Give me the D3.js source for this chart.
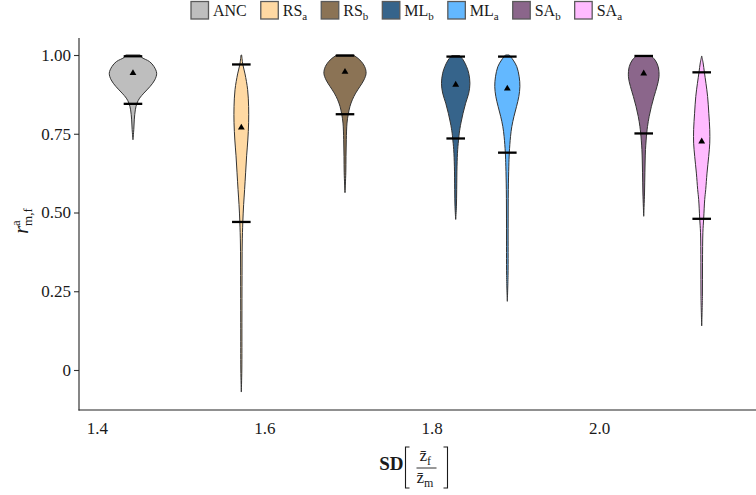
<!DOCTYPE html>
<html>
<head>
<meta charset="utf-8">
<script src="https://cdn.jsdelivr.net/npm/d3@7"></script>
<style>
  html, body { margin: 0; padding: 0; background: #fff; }
  svg { display: block; }
  svg text { font-family: "Liberation Serif", "Tinos", "Times New Roman", Times, "DejaVu Serif", serif; fill: #1a1a1a; }
</style>
</head>
<body>
<svg id="chart" width="756" height="495" font-family="Liberation Serif, Tinos, Times New Roman, DejaVu Serif, serif"></svg>
<script>
// ---------- data ----------
const groups    = ["ANC", "RS_a", "RS_b", "ML_b", "ML_a", "SA_b", "SA_a"];
const positions = [1.443, 1.5725, 1.6964, 1.8287, 1.8904, 2.0534, 2.1227];
const means     = [0.945, 0.772, 0.949, 0.908, 0.896, 0.944, 0.728];
const upperQ    = [0.996, 0.970, 0.998, 0.995, 0.995, 0.997, 0.945];
const lowerQ    = [0.845, 0.470, 0.812, 0.735, 0.690, 0.751, 0.480];
const colors    = ["#BEBEBE", "#FFD9A3", "#8B7355", "#36648B", "#63B8FF", "#8B668B", "#FFBBFF"];

const xTicks = [1.4, 1.6, 1.8, 2.0];
const yTicks = [0, 0.25, 0.5, 0.75, 1.0];
const yTickLabels = ["0", "0.25", "0.50", "0.75", "1.00"];

// relative density profiles: [value, density]
const densANC = [[1.0,.31],[0.993,.36],[0.979,.70],[0.963,.89],[0.942,1.0],[0.921,.92],[0.9,.72],[0.879,.46],[0.863,.28],[0.847,.17],[0.826,.10],[0.794,.055],[0.763,.034],[0.731,0]];
const densRSa = [[1.0,.013],[0.97,.063],[0.94,.156],[0.89,.266],[0.836,.308],[0.785,.308],[0.73,.274],[0.68,.224],[0.626,.181],[0.573,.139],[0.525,.097],[0.47,.063],[0.40,.038],[0.30,.030],[0.15,.025],[0.0,.021],[-0.07,0]];
const densRSb = [[1.0,.35],[0.984,.63],[0.963,.83],[0.942,.89],[0.921,.80],[0.9,.63],[0.879,.45],[0.858,.31],[0.837,.21],[0.813,.14],[0.784,.084],[0.731,.055],[0.678,.042],[0.626,.034],[0.563,0]];
const densMLb = [[0.998,.17],[0.984,.32],[0.963,.46],[0.942,.55],[0.91,.60],[0.879,.55],[0.847,.42],[0.815,.31],[0.784,.22],[0.752,.15],[0.735,.127],[0.70,.084],[0.647,.055],[0.573,.042],[0.52,.03],[0.478,0]];
const densMLa = [[1.0,.08],[0.984,.245],[0.963,.40],[0.931,.50],[0.9,.53],[0.868,.485],[0.837,.39],[0.805,.28],[0.773,.19],[0.741,.135],[0.69,.084],[0.647,.063],[0.573,.042],[0.45,.034],[0.3,.03],[0.218,0]];
const densSAb = [[0.998,.30],[0.984,.48],[0.963,.61],[0.931,.645],[0.9,.56],[0.868,.435],[0.837,.325],[0.805,.23],[0.773,.16],[0.751,.127],[0.70,.076],[0.626,.05],[0.562,.034],[0.488,0]];
const densSAa = [[0.997,0],[0.975,.06],[0.945,.114],[0.91,.18],[0.868,.25],[0.815,.30],[0.763,.34],[0.72,.34],[0.678,.295],[0.625,.224],[0.573,.17],[0.541,.127],[0.481,.084],[0.437,.05],[0.342,.034],[0.234,.03],[0.14,0]];
const densities = [densANC, densRSa, densRSb, densMLb, densMLa, densSAb, densSAa];

// ---------- layout ----------
const svg = d3.select("#chart");
const plotLeft = 79, plotRight = 756, plotTop = 38, plotBottom = 410;
const font = 17;

const x = d3.scaleLinear().domain([1.3785, 2.1876]).range([plotLeft, plotRight]);
const y = d3.scaleLinear().domain([-0.127, 1.054]).range([plotBottom, plotTop]);
const w = d3.scaleLinear().domain([0, 1]).range([0, 23.7]);
const barHalf = 0.0111;

// ---------- violins ----------
const gV = svg.append("g");
groups.forEach((g, i) => {
  const cx = x(positions[i]);
  const area = d3.area()
    .y(d => y(d[0]))
    .x0(d => cx - w(d[1]))
    .x1(d => cx + w(d[1]))
    .curve(d3.curveCatmullRom.alpha(0.5));
  gV.append("path")
    .attr("d", area(densities[i]))
    .attr("fill", colors[i])
    .attr("stroke", "#333")
    .attr("stroke-width", 1.0);
});

// quantile bars
[upperQ, lowerQ].forEach(arr => {
  gV.selectAll(null).data(arr).enter().append("line")
    .attr("x1", (d, i) => x(positions[i] - barHalf))
    .attr("x2", (d, i) => x(positions[i] + barHalf))
    .attr("y1", d => y(d)).attr("y2", d => y(d))
    .attr("stroke", "#000").attr("stroke-width", 2.3);
});

// mean triangles
gV.selectAll(null).data(means).enter().append("path")
  .attr("d", d3.symbol(d3.symbolTriangle, 20))
  .attr("transform", (d, i) => `translate(${x(positions[i])},${y(d) + 0.8})`)
  .attr("fill", "#000");

// ---------- axes ----------
const yAxis = d3.axisLeft(y).tickValues(yTicks)
  .tickFormat((d, i) => yTickLabels[i]).tickSize(5).tickPadding(3);
const gy = svg.append("g").attr("transform", `translate(${plotLeft},0)`).call(yAxis)
  .attr("font-family", null).attr("font-size", null);
gy.select(".domain").remove();
gy.selectAll(".tick line").attr("stroke", "#333").attr("stroke-width", 1.1);
gy.selectAll(".tick text").attr("font-size", font).attr("fill", "#1a1a1a");

const xAxis = d3.axisBottom(x).tickValues(xTicks).tickFormat(d3.format(".1f")).tickSize(0).tickPadding(12);
const gx = svg.append("g").attr("transform", `translate(0,${plotBottom})`).call(xAxis)
  .attr("font-family", null).attr("font-size", null);
gx.select(".domain").remove();
gx.selectAll(".tick text").attr("font-size", font).attr("fill", "#1a1a1a");

svg.append("line").attr("x1", plotLeft).attr("x2", plotLeft)
  .attr("y1", plotTop).attr("y2", plotBottom + 0.5)
  .attr("stroke", "#222").attr("stroke-width", 1.1);
svg.append("line").attr("x1", plotLeft - 0.5).attr("x2", plotRight)
  .attr("y1", plotBottom).attr("y2", plotBottom)
  .attr("stroke", "#222").attr("stroke-width", 1.1);

// ---------- y label ----------
const yl = svg.append("text")
  .attr("transform", `translate(27.5,${(plotTop + plotBottom) / 2 - 3}) rotate(-90)`)
  .attr("text-anchor", "middle").attr("font-size", 20);
yl.append("tspan").attr("font-style", "italic").text("r");
yl.append("tspan").attr("font-size", 13).attr("dy", -8).text("a");
yl.append("tspan").attr("font-size", 13).attr("dx", -5.8).attr("dy", 12).text("m,f");

// ---------- x title ----------
const cxT = (plotLeft + plotRight) / 2;
const gt = svg.append("g");
const bl = cxT - 12, br = cxT + 30, bt = 447, bb = 488;
gt.append("text").attr("x", bl - 2).attr("y", 470).attr("font-size", 19)
  .attr("text-anchor", "end").attr("font-weight", "bold").text("SD");
gt.append("path").attr("d", `M${bl + 4},${bt} H${bl} V${bb} H${bl + 4}`)
  .attr("fill", "none").attr("stroke", "#1a1a1a").attr("stroke-width", 1.1);
gt.append("path").attr("d", `M${br - 4},${bt} H${br} V${bb} H${br - 4}`)
  .attr("fill", "none").attr("stroke", "#1a1a1a").attr("stroke-width", 1.1);
const fx = (bl + br) / 2;
gt.append("line").attr("x1", fx - 10).attr("x2", fx + 10).attr("y1", 468).attr("y2", 468)
  .attr("stroke", "#1a1a1a").attr("stroke-width", 0.9);
const tTop = gt.append("text").attr("x", fx - 7).attr("y", 461).attr("font-size", 17);
tTop.append("tspan").text("z\u0304");
tTop.append("tspan").attr("font-size", 12).attr("dy", 4).text("f");
const tBot = gt.append("text").attr("x", fx - 10).attr("y", 483).attr("font-size", 17);
tBot.append("tspan").text("z\u0304");
tBot.append("tspan").attr("font-size", 12).attr("dy", 4).text("m");

// ---------- legend ----------
const lg = svg.append("g");
let lx = 191;
groups.forEach((g, i) => {
  const [main, sub] = g.split("_");
  lg.append("rect").attr("x", lx).attr("y", 1.5).attr("width", 17.5).attr("height", 17.5)
    .attr("fill", colors[i]).attr("stroke", "#5a5a5a").attr("stroke-width", 1.3);
  const t = lg.append("text").attr("x", lx + 22).attr("y", 16).attr("font-size", 16);
  t.append("tspan").text(main);
  if (sub) t.append("tspan").attr("font-size", 11).attr("dy", 4).text(sub);
  lx += 22 + t.node().getComputedTextLength() + 14;
});
</script>
</body>
</html>
